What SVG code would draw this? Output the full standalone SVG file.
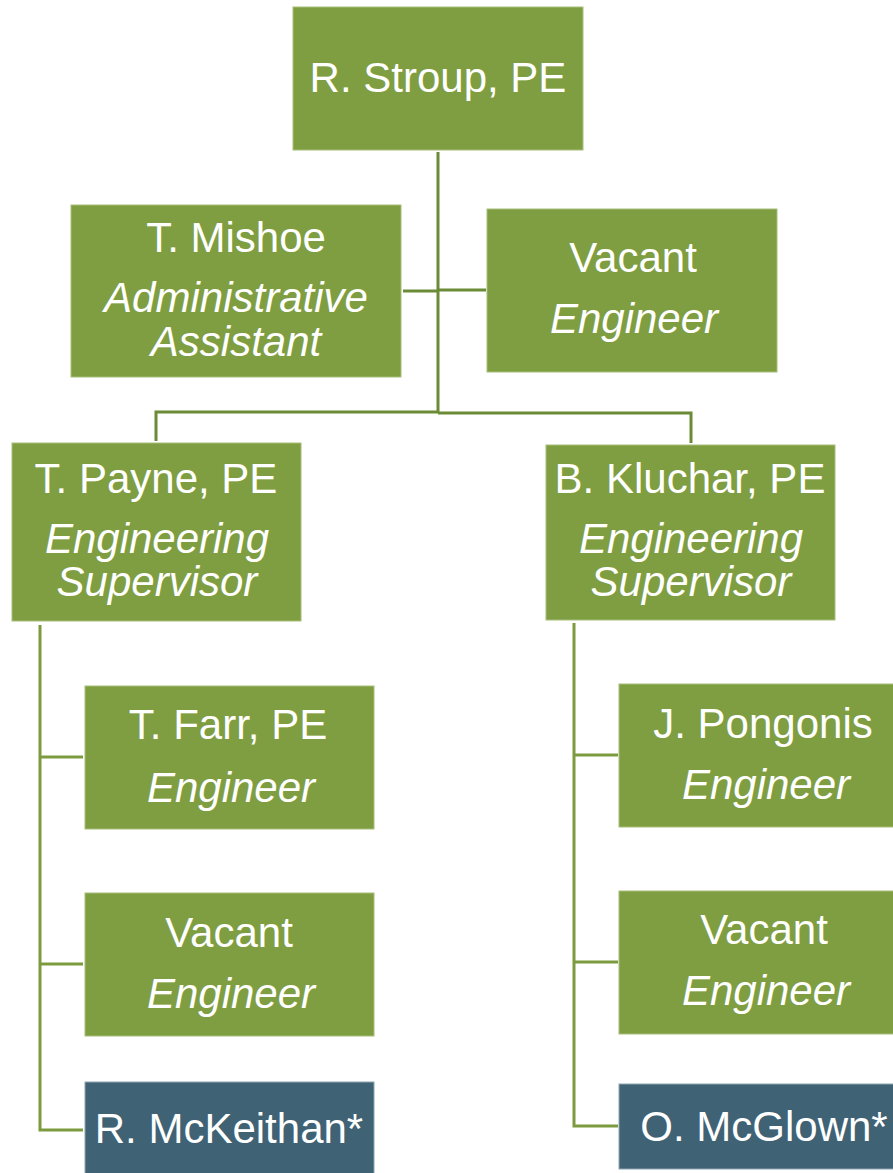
<svg xmlns="http://www.w3.org/2000/svg" width="893" height="1173" viewBox="0 0 893 1173">
  <style>
    .box { fill: #7F9E41; stroke: #A7BF7B; stroke-width: 1; }
    .dark { fill: #3F6275; stroke: #8FA5B2; stroke-width: 1; }
    .t { font-family: "Liberation Sans", Arial, sans-serif; font-size: 42px; fill: #FFFFFF; text-anchor: middle; }
    .i { font-style: italic; }
    .c1 { fill: none; stroke: #6C8B36; stroke-width: 3; }
    .c2 { fill: none; stroke: #7C9B3F; stroke-width: 3; }
  </style>
  <rect width="893" height="1173" fill="#FFFFFF"/>
  <g id="connectors">
    <path class="c1" d="M438,152 V413"/>
    <path class="c1" d="M403,291 H438"/>
    <path class="c1" d="M438,290 H486"/>
    <path class="c1" d="M156,441 V412 H438"/>
    <path class="c1" d="M438,413 H691 V443"/>
    <path class="c2" d="M40,625 V1130 H83"/>
    <path class="c2" d="M40,757 H83"/>
    <path class="c2" d="M40,964 H83"/>
    <path class="c2" d="M574,623 V1126 H618"/>
    <path class="c2" d="M574,755 H618"/>
    <path class="c2" d="M574,962 H618"/>
  </g>
  <g id="node-stroup">
    <rect class="box" x="293" y="7" width="290" height="143"/>
    <text class="t" x="438" y="92">R. Stroup, PE</text>
  </g>
  <g id="node-mishoe">
    <rect class="box" x="71" y="205" width="330" height="172"/>
    <text class="t" x="236" y="252">T. Mishoe</text>
    <text class="t i" x="236" y="312">Administrative</text>
    <text class="t i" x="236" y="356">Assistant</text>
  </g>
  <g id="node-vacant-top">
    <rect class="box" x="487" y="209" width="290" height="163"/>
    <text class="t" x="633" y="272">Vacant</text>
    <text class="t i" x="634" y="333">Engineer</text>
  </g>
  <g id="node-payne">
    <rect class="box" x="12" y="443" width="289" height="178"/>
    <text class="t" x="156" y="493">T. Payne, PE</text>
    <text class="t i" x="157" y="553">Engineering</text>
    <text class="t i" x="157" y="596">Supervisor</text>
  </g>
  <g id="node-kluchar">
    <rect class="box" x="546" y="445" width="289" height="175"/>
    <text class="t" x="690" y="493">B. Kluchar, PE</text>
    <text class="t i" x="691" y="553">Engineering</text>
    <text class="t i" x="691" y="596">Supervisor</text>
  </g>
  <g id="node-farr">
    <rect class="box" x="85" y="686" width="289" height="143"/>
    <text class="t" x="228" y="739">T. Farr, PE</text>
    <text class="t i" x="231" y="802">Engineer</text>
  </g>
  <g id="node-vacant-left">
    <rect class="box" x="85" y="893" width="289" height="143"/>
    <text class="t" x="229" y="947">Vacant</text>
    <text class="t i" x="231" y="1008">Engineer</text>
  </g>
  <g id="node-mckeithan">
    <rect class="dark" x="85" y="1082" width="289" height="95"/>
    <text class="t" x="229" y="1143">R. McKeithan*</text>
  </g>
  <g id="node-pongonis">
    <rect class="box" x="619" y="684" width="290" height="143"/>
    <text class="t" x="763" y="738">J. Pongonis</text>
    <text class="t i" x="766" y="799">Engineer</text>
  </g>
  <g id="node-vacant-right">
    <rect class="box" x="619" y="891" width="290" height="143"/>
    <text class="t" x="764" y="944">Vacant</text>
    <text class="t i" x="766" y="1005">Engineer</text>
  </g>
  <g id="node-mcglown">
    <rect class="dark" x="619" y="1084" width="290" height="85"/>
    <text class="t" x="764" y="1141">O. McGlown*</text>
  </g>
</svg>
